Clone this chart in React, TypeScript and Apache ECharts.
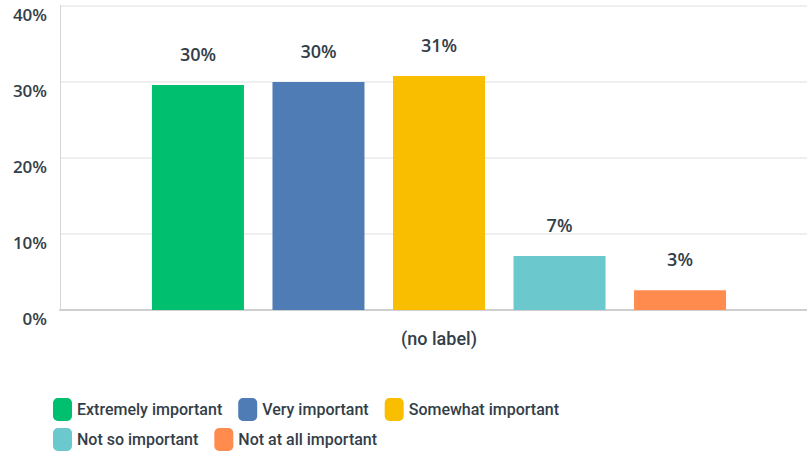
import React, { useEffect, useRef } from "react";
import * as echarts from "echarts";

const categories = ["(no label)"];
const seriesNames = ["Extremely important", "Very important", "Somewhat important", "Not so important", "Not at all important"];
const seriesValues = [29.6, 30.0, 30.8, 7.1, 2.6];
const seriesColors = ["#00bf6f", "#507cb6", "#f9be00", "#6bc8cd", "#ff8b4f"];
const yTicks = [0, 10, 20, 30, 40];
const legendRow1 = seriesNames.slice(0, 3);
const legendRow2 = seriesNames.slice(3);

const FONT = "Roboto, sans-serif";
const NUMFONT = "'Open Sans', sans-serif";
const TEXT = "#333e48";

export default function App() {
  const ref = useRef<HTMLDivElement>(null);
  useEffect(() => {
    if (!ref.current) return;
    const chart = echarts.init(ref.current, null, { renderer: "svg" });
    const legendBase = {
      left: 53,
      padding: 0,
      itemWidth: 19,
      itemHeight: 23,
      itemGap: 16,
      icon: "roundRect",
      textStyle: { fontFamily: FONT, fontSize: 16, fontWeight: 500, color: TEXT },
    };
    chart.setOption({
      animation: false,
      grid: { left: 60, top: 6, width: 758, height: 304, containLabel: false },
      legend: [
        { ...legendBase, top: 398, data: legendRow1 },
        { ...legendBase, top: 428, data: legendRow2 },
      ],
      xAxis: {
        type: "category",
        data: categories,
        axisLine: { lineStyle: { color: "#cfcfcf", width: 2 } },
        axisTick: { show: false },
        axisLabel: { fontFamily: FONT, fontSize: 18, fontWeight: 500, color: TEXT, margin: 19 },
      },
      yAxis: {
        type: "value",
        min: 0,
        max: 40,
        interval: 10,
        axisLine: { show: true, lineStyle: { color: "#d6d6d6", width: 1 } },
        splitLine: { lineStyle: { color: "#efefef", width: 2 } },
        axisLabel: {
          fontFamily: NUMFONT,
          fontSize: 17,
          fontWeight: 600,
          color: TEXT,
          margin: 13,
          verticalAlign: "top",
          formatter: (v: number) => (yTicks.includes(v) ? v + "%" : ""),
        },
      },
      series: seriesNames.map((name, i) => ({
        name,
        type: "bar",
        barWidth: 92,
        barGap: "31%",
        itemStyle: { color: seriesColors[i] },
        data: [seriesValues[i]],
        label: {
          show: true,
          position: "top",
          distance: 22,
          fontFamily: NUMFONT,
          fontSize: 18,
          fontWeight: 600,
          color: TEXT,
          formatter: (p: any) => Math.round(p.value) + "%",
        },
      })),
    });
    return () => chart.dispose();
  }, []);
  return (
    <div style={{ position: "absolute", left: 0, top: 0, width: 807, height: 454, overflow: "hidden" }}>
      <div ref={ref} style={{ width: 840, height: 454 }} />
    </div>
  );
}
